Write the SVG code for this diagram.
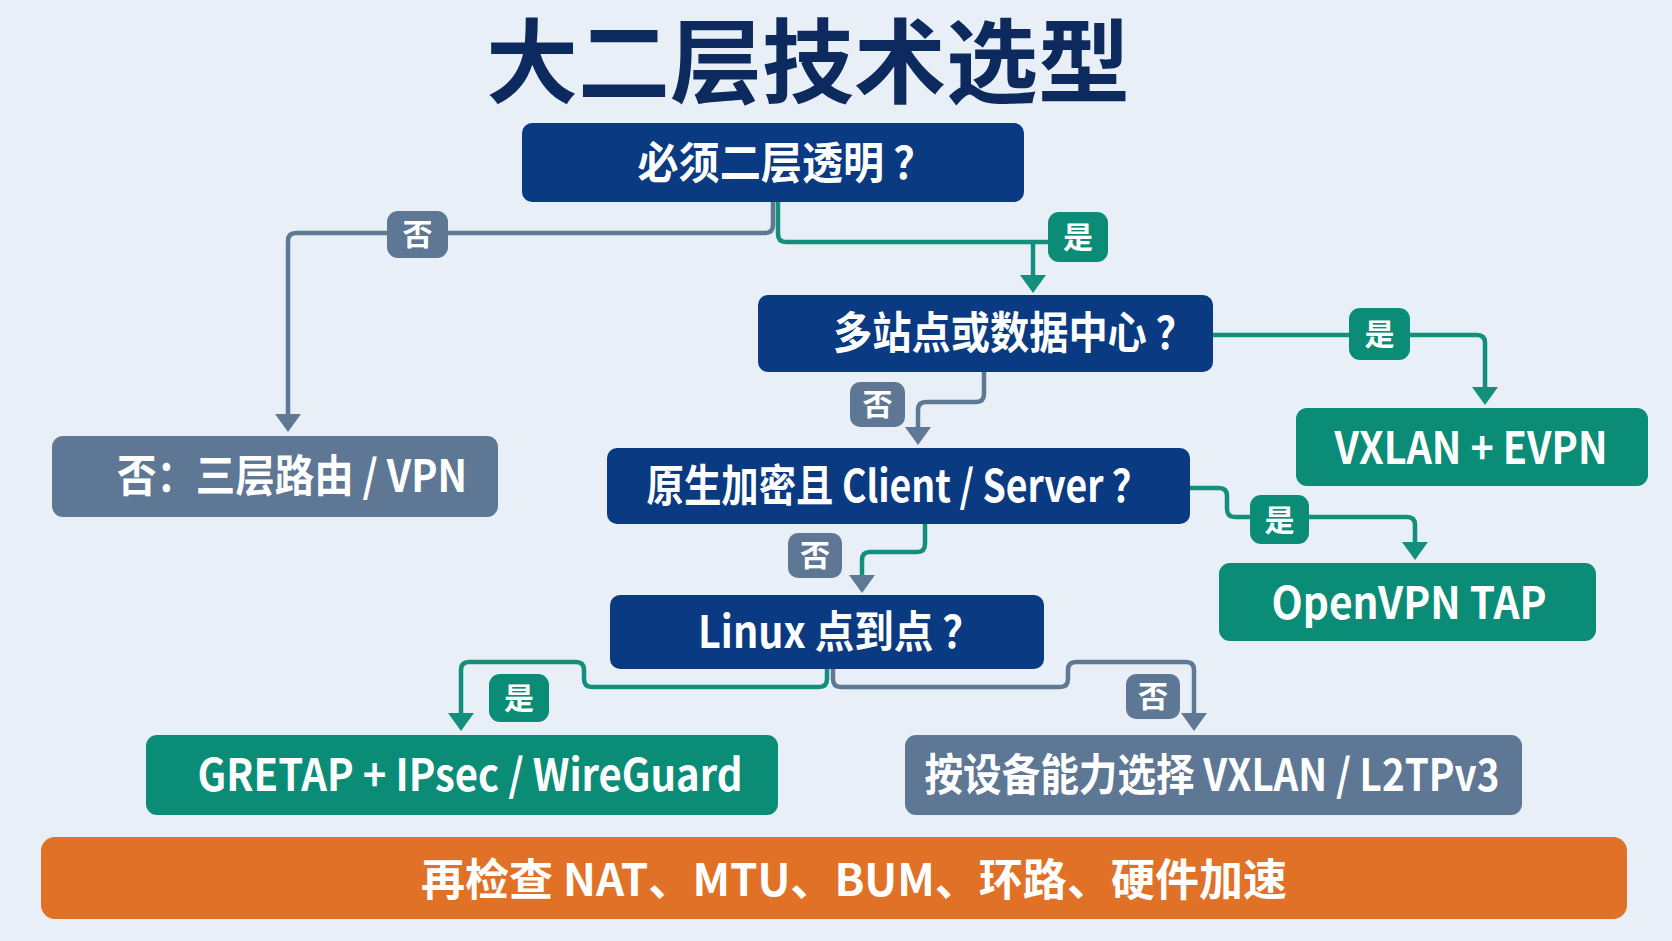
<svg xmlns="http://www.w3.org/2000/svg" width="1672" height="941" viewBox="0 0 1672 941">
<style>
text{font-family:"Noto Sans CJK SC","Noto Sans",sans-serif;font-weight:700;fill:#fff;text-anchor:middle}
.title{fill:#0d2a5e;font-size:92px}
.t{font-size:44px}
.lbl{font-size:30px}
.navy{fill:#0a3a82}
.teal{fill:#0a8c77}
.slate{fill:#5d7795}
.orange{fill:#e07126}
.lg{fill:none;stroke:#5f7894;stroke-width:4.5}
.lt{fill:none;stroke:#12907c;stroke-width:4.5}
</style>
<defs>
<marker id="ag" viewBox="0 0 18 26" refX="10" refY="13" markerWidth="18" markerHeight="26" markerUnits="userSpaceOnUse" orient="auto"><path d="M0,0 L18,13 L0,26 z" fill="#5f7894"/></marker>
<marker id="at" viewBox="0 0 18 26" refX="10" refY="13" markerWidth="18" markerHeight="26" markerUnits="userSpaceOnUse" orient="auto"><path d="M0,0 L18,13 L0,26 z" fill="#12907c"/></marker>
</defs>
<rect width="1672" height="941" fill="#e9eff7"/>
<text class="title" x="808" y="96">大二层技术选型</text>

<g id="connectors">
<path class="lg" d="M773,202 V225 Q773,233 765,233 H296 Q288,233 288,241 V424" marker-end="url(#ag)"/>
<path class="lt" d="M778,202 V234 Q778,242 786,242 H1052"/>
<path class="lt" d="M1033,242 V285" marker-end="url(#at)"/>
<path class="lt" d="M1213,335 H1477 Q1485,335 1485,343 V397" marker-end="url(#at)"/>
<path class="lg" d="M984,372 V394 Q984,402 976,402 H926 Q918,402 918,410 V437" marker-end="url(#ag)"/>
<path class="lt" d="M1190,488 H1219 Q1227,488 1227,496 V509 Q1227,517 1235,517 H1407 Q1415,517 1415,525 V552" marker-end="url(#at)"/>
<path class="lt" d="M925,524 V544 Q925,552 917,552 H870 Q862,552 862,560 V585" marker-end="url(#ag)"/>
<path class="lt" d="M827,669 V679 Q827,687 819,687 H592 Q584,687 584,679 V670 Q584,662 576,662 H469 Q461,662 461,670 V723" marker-end="url(#at)"/>
<path class="lg" d="M833,669 V679 Q833,687 841,687 H1060 Q1068,687 1068,679 V670 Q1068,662 1076,662 H1186 Q1194,662 1194,670 V723" marker-end="url(#ag)"/>
<g id="labels">
<rect class="slate" x="387" y="211" width="61" height="47" rx="11"/><text class="lbl" x="417.5" y="245">否</text>
<rect class="teal" x="1048" y="212" width="60" height="50" rx="11"/><text class="lbl" x="1078" y="248">是</text>
<rect class="teal" x="1349" y="308" width="61" height="52" rx="11"/><text class="lbl" x="1379.5" y="345">是</text>
<rect class="slate" x="850" y="382" width="55" height="45" rx="10"/><text class="lbl" x="877.5" y="415">否</text>
<rect class="teal" x="1250" y="495" width="59" height="49" rx="11"/><text class="lbl" x="1279.5" y="531">是</text>
<rect class="slate" x="788" y="533" width="54" height="45" rx="10"/><text class="lbl" x="815" y="566">否</text>
<rect class="teal" x="489" y="674" width="60" height="48" rx="11"/><text class="lbl" x="519" y="709">是</text>
<rect class="slate" x="1126" y="674" width="54" height="45" rx="10"/><text class="lbl" x="1153" y="707">否</text>
</g>
</g>

<g id="n-l2"><rect class="navy" x="522" y="123" width="502" height="79" rx="10"/><text class="t" x="786" y="179" textLength="297" lengthAdjust="spacingAndGlyphs">必须二层透明 ？</text></g>
<g id="n-l3"><rect class="slate" x="52" y="436" width="446" height="81" rx="11"/><text class="t" x="292" y="492" textLength="350" lengthAdjust="spacingAndGlyphs">否：三层路由 / VPN</text></g>
<g id="n-multi"><rect class="navy" x="758" y="295" width="455" height="77" rx="10"/><text class="t" x="1014" y="349" textLength="362" lengthAdjust="spacingAndGlyphs">多站点或数据中心 ？</text></g>
<g id="n-vxlan-evpn"><rect class="teal" x="1296" y="408" width="352" height="78" rx="11"/><text class="t" x="1471" y="464" textLength="273" lengthAdjust="spacingAndGlyphs">VXLAN + EVPN</text></g>
<g id="n-native"><rect class="navy" x="607" y="448" width="583" height="76" rx="10"/><text class="t" x="898" y="502" textLength="503" lengthAdjust="spacingAndGlyphs">原生加密且 Client / Server ？</text></g>
<g id="n-openvpn"><rect class="teal" x="1219" y="563" width="377" height="78" rx="11"/><text class="t" x="1409" y="619" textLength="275" lengthAdjust="spacingAndGlyphs">OpenVPN TAP</text></g>
<g id="n-linux"><rect class="navy" x="610" y="595" width="434" height="74" rx="10"/><text class="t" x="840" y="648" textLength="284" lengthAdjust="spacingAndGlyphs">Linux 点到点 ？</text></g>
<g id="n-gretap"><rect class="teal" x="146" y="735" width="632" height="80" rx="11"/><text class="t" x="470" y="791" textLength="545" lengthAdjust="spacingAndGlyphs">GRETAP + IPsec / WireGuard</text></g>
<g id="n-device"><rect class="slate" x="905" y="735" width="617" height="80" rx="11"/><text class="t" x="1212" y="791" textLength="575" lengthAdjust="spacingAndGlyphs">按设备能力选择 VXLAN / L2TPv3</text></g>
<g id="n-check"><rect class="orange" x="41" y="837" width="1586" height="82" rx="14"/><text class="t" x="854" y="896" textLength="866" lengthAdjust="spacingAndGlyphs">再检查 NAT、MTU、BUM、环路、硬件加速</text></g>
</svg>
